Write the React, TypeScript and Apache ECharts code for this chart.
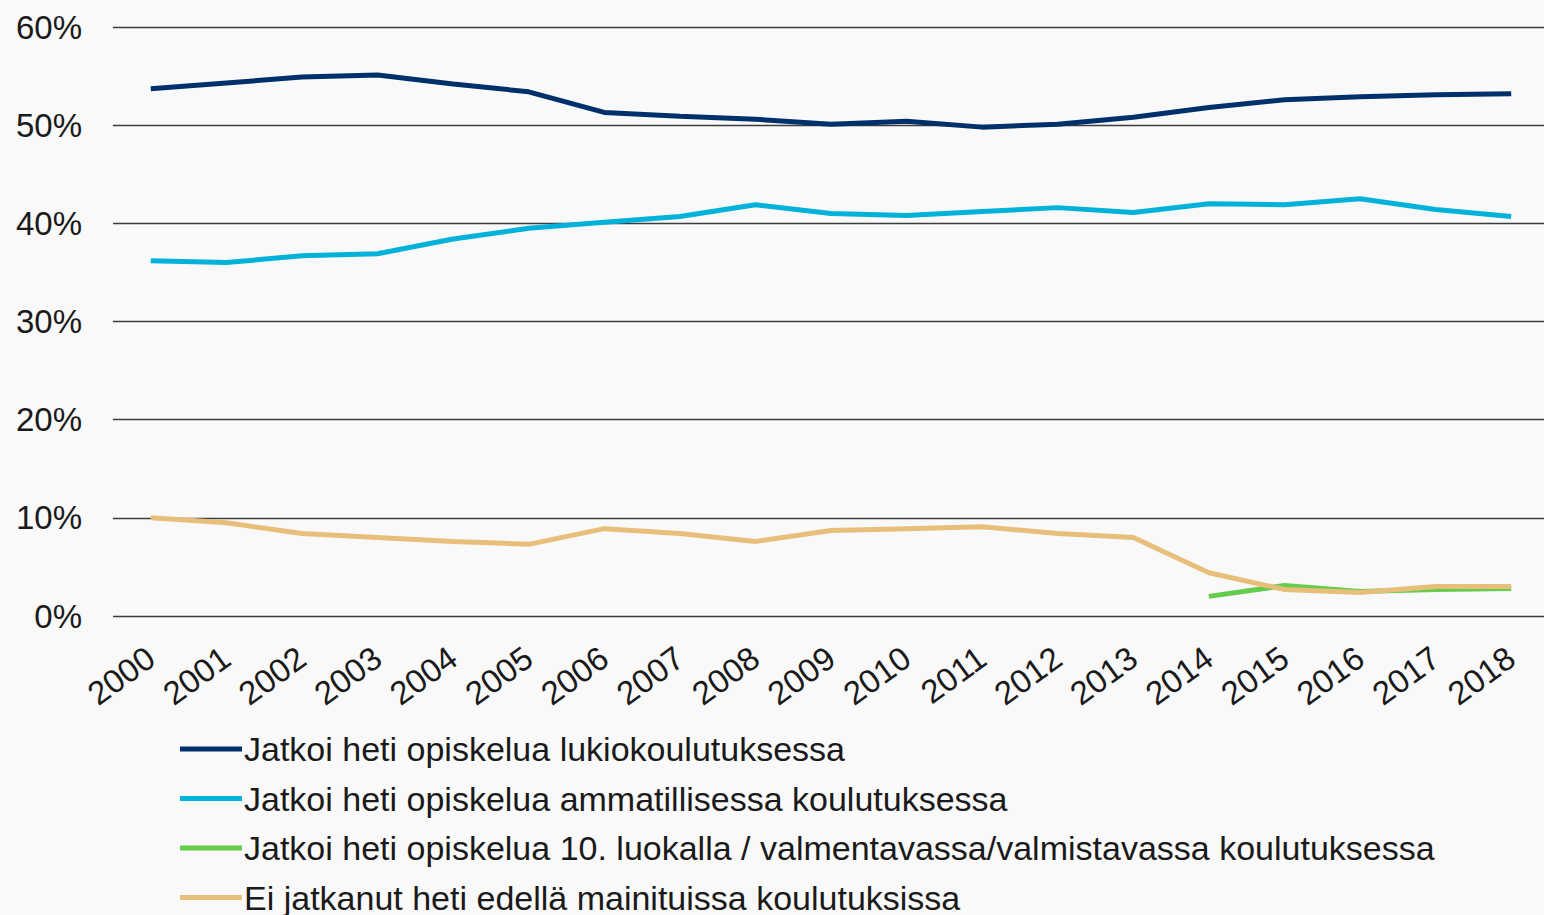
import React, { useEffect, useRef } from "react";
import * as echarts from "echarts";

const years = ["2000","2001","2002","2003","2004","2005","2006","2007","2008","2009","2010","2011","2012","2013","2014","2015","2016","2017","2018"];
const lukio = [53.7, 54.3, 54.9, 55.1, 54.2, 53.4, 51.3, 50.9, 50.6, 50.1, 50.4, 49.8, 50.1, 50.8, 51.8, 52.6, 52.9, 53.1, 53.2];
const ammatillinen = [36.2, 36.0, 36.7, 36.9, 38.4, 39.5, 40.1, 40.7, 41.9, 41.0, 40.8, 41.2, 41.6, 41.1, 42.0, 41.9, 42.5, 41.4, 40.7];
const kymppi = [null, null, null, null, null, null, null, null, null, null, null, null, null, null, 2.0, 3.1, 2.5, 2.7, 2.8];
const eiJatkanut = [10.0, 9.5, 8.4, 8.0, 7.6, 7.3, 8.9, 8.4, 7.6, 8.7, 8.9, 9.1, 8.4, 8.0, 4.4, 2.7, 2.4, 3.0, 3.0];
const seriesNames = [
  "Jatkoi heti opiskelua lukiokoulutuksessa",
  "Jatkoi heti opiskelua ammatillisessa koulutuksessa",
  "Jatkoi heti opiskelua 10. luokalla / valmentavassa/valmistavassa koulutuksessa",
  "Ei jatkanut heti edellä mainituissa koulutuksissa",
];
const colors = ["#00306b", "#00b2d9", "#66cc4d", "#e8bf7a"];

export default function App() {
  const ref = useRef<HTMLDivElement>(null);
  useEffect(() => {
    if (!ref.current) return;
    const chart = echarts.init(ref.current, null, { renderer: "svg" });
    const font = "'Liberation Sans', Arial, sans-serif";
    const data = [lukio, ammatillinen, kymppi, eiJatkanut];
    chart.setOption({
      animation: false,
      backgroundColor: "#f9f9f9",
      textStyle: { fontFamily: font },
      grid: { left: 113, right: -5, top: 27, bottom: 299, outerBoundsMode: "none", containLabel: false },
      legend: {
        orient: "vertical",
        left: 175,
        top: 727,
        height: 400,
        itemWidth: 62,
        itemHeight: 5,
        itemGap: 15.5,
        icon: "rect",
        textStyle: { fontSize: 34, color: "#1a1a1a", fontFamily: font, padding: [0, 0, 0, -3] },
        data: seriesNames,
      },
      xAxis: {
        type: "category",
        data: years,
        boundaryGap: true,
        axisLine: { show: false },
        axisTick: { show: false },
        axisLabel: { rotate: 36, fontSize: 33, color: "#1a1a1a", margin: 38, interval: 0 },
      },
      yAxis: {
        type: "value",
        min: 0,
        max: 60,
        interval: 10,
        axisLabel: { formatter: "{value}%", fontSize: 33, color: "#1a1a1a", margin: 31 },
        splitLine: { lineStyle: { color: "#3c3c3c", width: 1.3 } },
        axisLine: { show: false },
        axisTick: { show: false },
      },
      series: seriesNames.map((n, i) => ({
        name: n,
        type: "line",
        data: data[i],
        symbol: "none",
        color: colors[i],
        lineStyle: { width: 5, color: colors[i] },
        connectNulls: false,
      })),
    });
    return () => chart.dispose();
  }, []);
  return <div ref={ref} style={{ position: "fixed", left: 0, top: 0, width: 1544, height: 915 }} />;
}
